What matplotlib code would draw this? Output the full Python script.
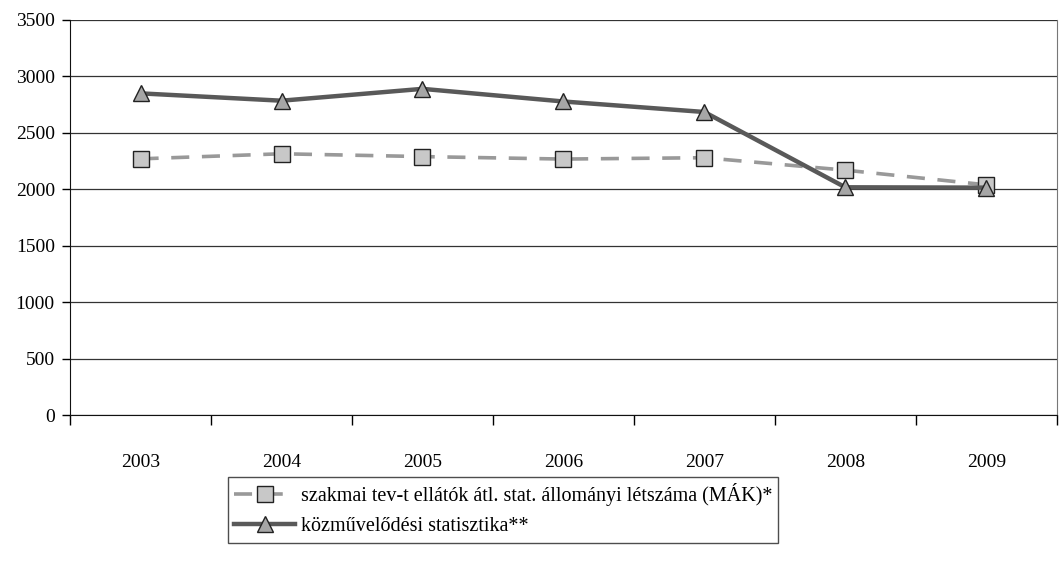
import matplotlib.pyplot as plt
import numpy as np

years = ["2003", "2004", "2005", "2006", "2007", "2008", "2009"]
mak = [2270, 2315, 2290, 2268, 2280, 2170, 2040]
kozmuv = [2850, 2785, 2890, 2778, 2685, 2018, 2015]
yticks = [0, 500, 1000, 1500, 2000, 2500, 3000, 3500]

plt.rcParams['font.family'] = ['Liberation Serif', 'DejaVu Serif']

fig = plt.figure(figsize=(10.62, 5.71), dpi=100)
ax = fig.add_axes([0.066, 0.273, 0.929, 0.692])

x = np.arange(len(years))
ax.plot(x, mak, color="#999999", lw=2.6, dashes=(5, 3.5),
        marker="s", ms=11, mfc="#c8c8c8", mec="#222222", mew=1.0,
        label="szakmai tev-t ellátók átl. stat. állományi létszáma (MÁK)*", zorder=3)
ax.plot(x, kozmuv, color="#595959", lw=3.2,
        marker="^", ms=12, mfc="#a6a6a6", mec="#222222", mew=1.0,
        label="közművelődési statisztika**", zorder=4)

ax.set_ylim(0, 3500)
ax.set_xlim(-0.5, len(years) - 0.5)
ax.set_yticks(yticks)
ax.set_yticklabels([str(v) for v in yticks], fontsize=14)
ax.yaxis.grid(True, color="#333333", lw=0.9)
ax.set_axisbelow(True)

# category labels centered, tick marks between categories
ax.set_xticks(x)
ax.set_xticklabels(years, fontsize=14)
ax.tick_params(axis="x", length=0, pad=28)
ax.set_xticks(np.arange(len(years) + 1) - 0.5, minor=True)
ax.tick_params(axis="x", which="minor", length=7, width=1, direction="out")
ax.tick_params(axis="y", length=6, width=1, direction="out", pad=5)

ax.spines["top"].set_visible(False)
ax.spines["right"].set_color("#777777")
ax.spines["left"].set_color("#111111")
ax.spines["bottom"].set_color("#111111")

leg = fig.legend(loc="center", bbox_to_anchor=(0.474, 0.107), fontsize=14.5,
                 frameon=True, fancybox=False, edgecolor="#222222",
                 handlelength=3, borderpad=0.3, labelspacing=0.55, handletextpad=0.3)
leg.get_frame().set_linewidth(1.0)

fig.savefig("out.png", dpi=100)
